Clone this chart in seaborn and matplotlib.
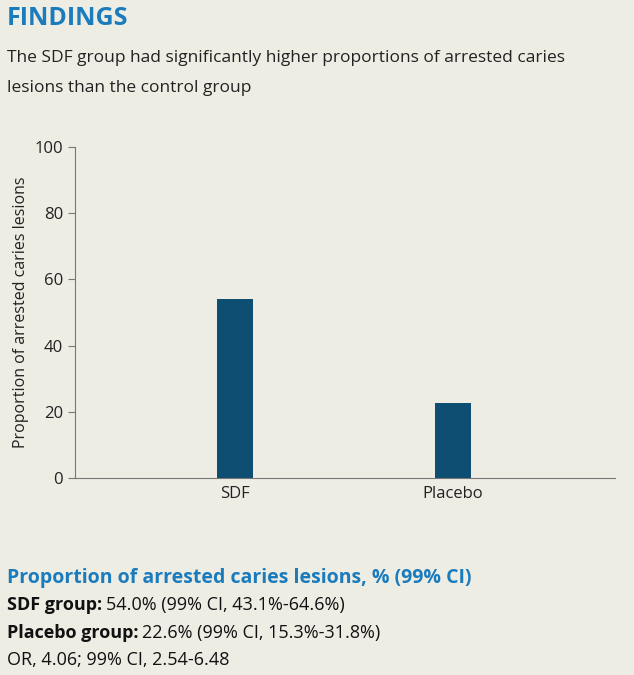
import matplotlib
matplotlib.use("Agg")
import matplotlib.pyplot as plt
import seaborn as sns
import pandas as pd

groups = ["SDF", "Placebo"]
values = [54.0, 22.6]
yticks = [0, 20, 40, 60, 80, 100]

bg = "#eeede4"
blue = "#0e4e72"
title_blue = "#1a7bbd"
sns.set_style("white")
plt.rcParams['font.family'] = ['Open Sans', 'DejaVu Sans']

fig = plt.figure(figsize=(6.34, 6.75), dpi=100, facecolor=bg)
ax = fig.add_axes([0.118, 0.292, 0.852, 0.49], facecolor=bg)
df = pd.DataFrame({"group": groups, "value": values})
sns.barplot(data=df, x="group", y="value", color=blue, width=0.165, ax=ax,
            saturation=1, edgecolor="none", linewidth=0)
ax.set_xlim(-0.733, 1.742)
ax.set_ylim(0, 100)
ax.set_yticks(yticks)
ax.set_xlabel("")
ax.set_ylabel("Proportion of arrested caries lesions", fontsize=11.5, color="#222")
for s in ["top", "right"]:
    ax.spines[s].set_visible(False)
for s in ["left", "bottom"]:
    ax.spines[s].set_color("#777")
ax.tick_params(axis="y", length=5, color="#777", labelsize=12, labelcolor="#222", left=True)
ax.tick_params(axis="x", length=0, labelsize=12, labelcolor="#222", pad=6)

fig.text(0.011, 0.973, "FINDINGS", fontsize=18, fontweight="bold", color=title_blue, va="center")
fig.text(0.011, 0.914, "The SDF group had significantly higher proportions of arrested caries", fontsize=12.5, color="#222", va="center")
fig.text(0.011, 0.870, "lesions than the control group", fontsize=12.5, color="#222", va="center")

fig.text(0.011, 0.144, "Proportion of arrested caries lesions, % (99% CI)", fontsize=14, fontweight="bold", color=title_blue, va="center")
renderer = fig.canvas.get_renderer()
for y, b, rest in [(0.103, "SDF group:", "54.0% (99% CI, 43.1%-64.6%)"),
                   (0.062, "Placebo group:", "22.6% (99% CI, 15.3%-31.8%)")]:
    t = fig.text(0.011, y, b, fontsize=13, fontweight="bold", color="#111", va="center")
    ext = t.get_window_extent(renderer)
    x1 = ext.x1 / fig.bbox.width + 0.006
    fig.text(x1, y, rest, fontsize=13, color="#111", va="center")
fig.text(0.011, 0.022, "OR, 4.06; 99% CI, 2.54-6.48", fontsize=13, color="#111", va="center")

fig.savefig("out.png", dpi=100, facecolor=bg)
